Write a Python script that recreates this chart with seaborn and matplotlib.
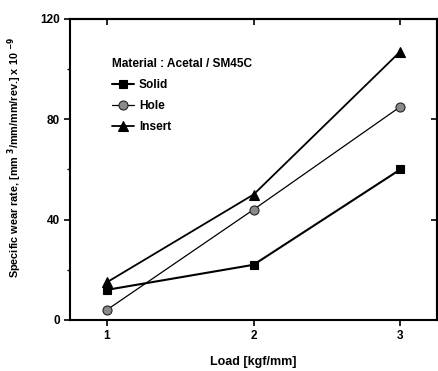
import matplotlib
matplotlib.use("Agg")
import matplotlib.pyplot as plt
import seaborn as sns
import pandas as pd

loads = [1, 2, 3]
solid = [12, 22, 60]
hole = [4, 44, 85]
insert = [15, 50, 107]
series_names = ["Solid", "Hole", "Insert"]
yticks = [0, 40, 80, 120]
xticks = [1, 2, 3]

sns.set_theme(style="ticks")
plt.rcParams["font.family"] = ["Liberation Sans", "DejaVu Sans"]
plt.rcParams["font.weight"] = "bold"
plt.rcParams["mathtext.default"] = "bf"
plt.rcParams["text.color"] = "black"
plt.rcParams["axes.labelcolor"] = "black"
plt.rcParams["xtick.color"] = "black"
plt.rcParams["ytick.color"] = "black"

fig = plt.figure(figsize=(4.38, 3.71), dpi=100)
ax = fig.add_axes([0.16, 0.1375, 0.8377, 0.8115])

styles = {
    "Solid": dict(marker="s", lw=1.5, ms=6, mfc="black", mec="black"),
    "Hole": dict(marker="o", lw=0.9, ms=6.5, mfc="#8a8a8a", mec="#222222"),
    "Insert": dict(marker="^", lw=1.3, ms=7, mfc="black", mec="black"),
}
values = {"Solid": solid, "Hole": hole, "Insert": insert}

for name in series_names:
    df = pd.DataFrame({"Load": loads, "Rate": values[name]})
    st = styles[name]
    sns.lineplot(data=df, x="Load", y="Rate", ax=ax, color="black",
                 linewidth=st["lw"], marker=st["marker"], markersize=st["ms"],
                 markerfacecolor=st["mfc"], markeredgecolor=st["mec"],
                 markeredgewidth=0.8, label=name)

ax.set_xlim(0.75, 3.25)
ax.set_ylim(0, 120)
ax.set_xticks(xticks)
ax.set_yticks(yticks)
ax.set_yticks([20, 60, 100], minor=True)
ax.tick_params(axis="both", which="major", labelsize=8.5, width=1.2, length=4,
               direction="out", colors="black")
ax.tick_params(axis="y", which="minor", width=1.0, length=2, direction="out")
sec_x = ax.secondary_xaxis("top")
sec_x.set_xticks(xticks, labels=[])
sec_x.tick_params(direction="in", length=4, width=1.2)
sec_y = ax.secondary_yaxis("right")
sec_y.set_yticks(yticks, labels=[])
sec_y.tick_params(direction="in", length=4, width=1.2)
for sec in (sec_x, sec_y):
    for s in sec.spines.values():
        s.set_linewidth(1.5)
for lbl in ax.get_xticklabels() + ax.get_yticklabels():
    lbl.set_fontweight("bold")
for s in ax.spines.values():
    s.set_linewidth(1.5)
    s.set_color("black")

ax.set_xlabel("Load [kgf/mm]", fontsize=9, fontweight="bold", labelpad=10)
ax.set_ylabel("Specific wear rate, [mm $^{3}$/mm/mm/rev.] x 10 $^{-9}$",
              fontsize=7.8, fontweight="bold")
ax.yaxis.set_label_coords(-0.125, 0.54)

leg = ax.legend(loc="upper left", bbox_to_anchor=(0.10, 0.885), frameon=False,
                title="Material : Acetal / SM45C", fontsize=8.6,
                title_fontproperties={"weight": "bold", "size": 8.6},
                handlelength=1.9, handletextpad=0.4, labelspacing=0.75,
                borderaxespad=0, alignment="left")
for t in leg.get_texts():
    t.set_fontweight("bold")

fig.savefig("out.png", dpi=100)
